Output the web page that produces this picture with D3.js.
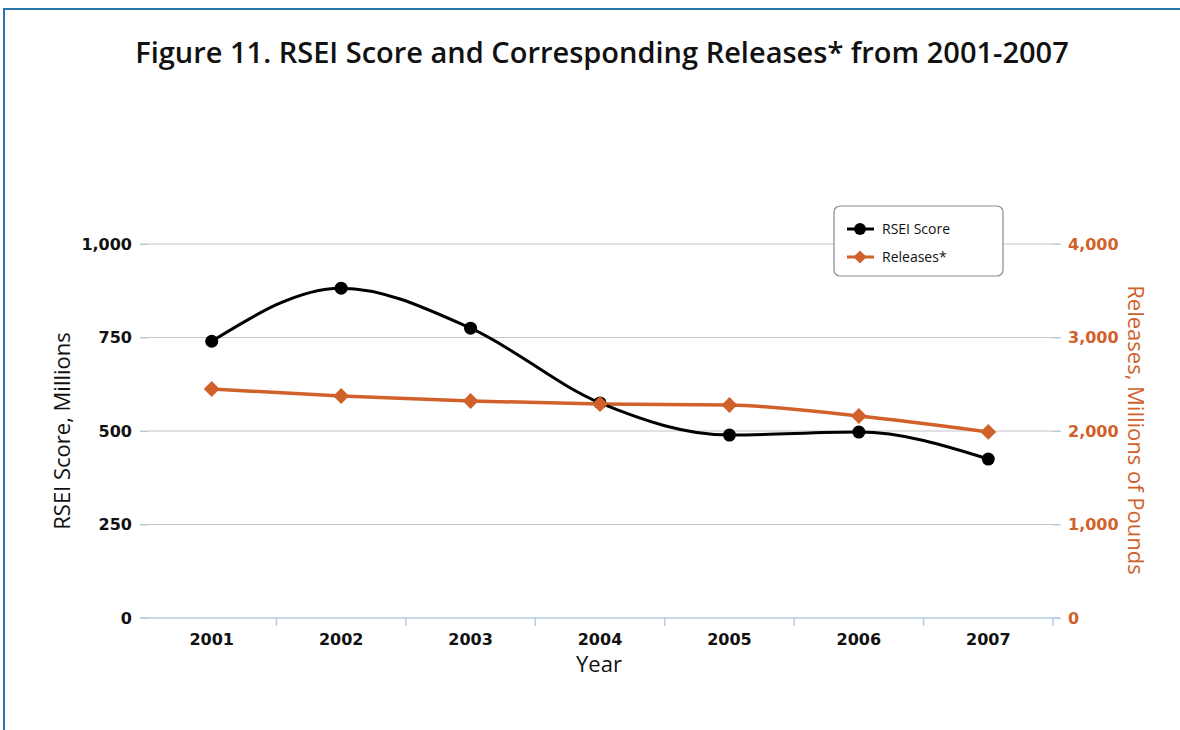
<!DOCTYPE html>
<html>
<head>
<meta charset="utf-8">
<script src="https://cdn.jsdelivr.net/npm/d3@7"></script>
<style>
  body { margin: 0; background: #fff; }
  svg { display: block; }
</style>
</head>
<body>
<div id="canvas"></div>
<script>
let years = ["2001", "2002", "2003", "2004", "2005", "2006", "2007"]
let rseiScore = [740, 882, 775, 575, 489, 497, 425]
let releases = [2449, 2374, 2321, 2289, 2278, 2160, 1990]
let leftTicks = [0, 250, 500, 750, 1000]
let rightTicks = [0, 1000, 2000, 3000, 4000]

let orange = "#d0612a"
let svg = {}

window.onload = function () { setup() }

function setup() {
  svg = d3.select("#canvas")
    .append("svg")
    .attr("width", 1180)
    .attr("height", 730)

  drawFrame()
  drawChart()
}

function drawFrame() {
  svg.append("path")
    .attr("d", "M4,730 L4,9 L1180,9")
    .attr("fill", "none")
    .attr("stroke", "#2a74a9")
    .attr("stroke-width", 2)

  svg.append("text")
    .attr("x", 602)
    .attr("y", 63)
    .attr("text-anchor", "middle")
    .attr("font-family", "'Open Sans', sans-serif")
    .attr("font-weight", 600)
    .attr("font-size", 29)
    .attr("fill", "#111")
    .text("Figure 11. RSEI Score and Corresponding Releases* from 2001-2007")
}

function drawChart() {
  let x = d3.scaleBand().domain(years).range([147, 1053])
  let yLeft = d3.scaleLinear().domain([0, 1000]).range([618, 244])
  let yRight = d3.scaleLinear().domain([0, 4000]).range([618, 244])

  // gridlines
  svg.append("g")
    .selectAll("line")
    .data(leftTicks.slice(1))
    .join("line")
    .attr("x1", 140)
    .attr("x2", 1060)
    .attr("y1", d => yLeft(d))
    .attr("y2", d => yLeft(d))
    .attr("stroke", "#c4c4c4")
    .attr("stroke-width", 1.2)

  // left axis
  let leftAxis = svg.append("g")
    .attr("transform", "translate(148,0)")
    .call(d3.axisLeft(yLeft).tickValues(leftTicks).tickSize(8).tickPadding(8).tickFormat(d3.format(",")))
  leftAxis.select(".domain").remove()
  leftAxis.selectAll(".tick line").attr("stroke", "#b3cbe2")
  leftAxis.selectAll("text")
    .attr("font-family", "'DejaVu Sans', sans-serif")
    .attr("font-weight", "bold")
    .attr("font-size", 16)
    .attr("fill", "#111")

  // right axis
  let rightAxis = svg.append("g")
    .attr("transform", "translate(1053,0)")
    .call(d3.axisRight(yRight).tickValues(rightTicks).tickSize(8).tickPadding(7).tickFormat(d3.format(",")))
  rightAxis.select(".domain").remove()
  rightAxis.selectAll(".tick line").attr("stroke", "#b3cbe2")
  rightAxis.selectAll("text")
    .attr("font-family", "'DejaVu Sans', sans-serif")
    .attr("font-weight", "bold")
    .attr("font-size", 16)
    .attr("fill", orange)

  // x axis
  let xAxis = svg.append("g")
    .attr("transform", "translate(0,618)")
    .call(d3.axisBottom(x).tickSize(0).tickPadding(16))
  xAxis.select(".domain").remove()
  xAxis.selectAll("text")
    .attr("font-family", "'DejaVu Sans', sans-serif")
    .attr("font-weight", "bold")
    .attr("font-size", 16)
    .attr("fill", "#111")

  svg.append("line")
    .attr("x1", 140).attr("x2", 1060)
    .attr("y1", 618).attr("y2", 618)
    .attr("stroke", "#b3cbe2")
    .attr("stroke-width", 1.5)

  svg.append("g")
    .selectAll("line")
    .data(years)
    .join("line")
    .attr("x1", d => x(d) + x.bandwidth())
    .attr("x2", d => x(d) + x.bandwidth())
    .attr("y1", 618)
    .attr("y2", 626)
    .attr("stroke", "#b3cbe2")
    .attr("stroke-width", 1.5)

  // axis titles
  svg.append("text")
    .attr("transform", "translate(70,431) rotate(-90)")
    .attr("text-anchor", "middle")
    .attr("font-family", "'Open Sans', sans-serif")
    .attr("font-size", 22)
    .attr("fill", "#111")
    .text("RSEI Score, Millions")

  svg.append("text")
    .attr("transform", "translate(1128,430) rotate(90)")
    .attr("text-anchor", "middle")
    .attr("font-family", "'Open Sans', sans-serif")
    .attr("font-size", 22)
    .attr("fill", orange)
    .text("Releases, Millions of Pounds")

  svg.append("text")
    .attr("x", 599)
    .attr("y", 672)
    .attr("text-anchor", "middle")
    .attr("font-family", "'Open Sans', sans-serif")
    .attr("font-size", 22)
    .attr("fill", "#111")
    .text("Year")

  let cx = d => x(d) + x.bandwidth() / 2

  // releases line
  let relLine = d3.line()
    .x((d, i) => cx(years[i]))
    .y(d => yRight(d))
    .curve(d3.curveMonotoneX)

  svg.append("path")
    .datum(releases)
    .attr("d", relLine)
    .attr("fill", "none")
    .attr("stroke", orange)
    .attr("stroke-width", 3.5)

  // rsei line
  let rseiLine = d3.line()
    .x((d, i) => cx(years[i]))
    .y(d => yLeft(d))
    .curve(d3.curveMonotoneX)

  svg.append("path")
    .datum(rseiScore)
    .attr("d", rseiLine)
    .attr("fill", "none")
    .attr("stroke", "#000")
    .attr("stroke-width", 3)

  svg.append("g")
    .selectAll("circle")
    .data(rseiScore)
    .join("circle")
    .attr("cx", (d, i) => cx(years[i]))
    .attr("cy", d => yLeft(d))
    .attr("r", 6.5)
    .attr("fill", "#000")

  svg.append("g")
    .selectAll("path")
    .data(releases)
    .join("path")
    .attr("d", d3.symbol(d3.symbolDiamond2, 160))
    .attr("transform", (d, i) => "translate(" + cx(years[i]) + "," + yRight(d) + ")")
    .attr("fill", orange)

  drawLegend()
}

function drawLegend() {
  let legend = svg.append("g").attr("transform", "translate(834,206)")

  legend.append("rect")
    .attr("width", 169)
    .attr("height", 70)
    .attr("rx", 6)
    .attr("fill", "#fff")
    .attr("stroke", "#8a8a8a")
    .attr("stroke-width", 1.2)

  let items = [
    { label: "RSEI Score", color: "#000", marker: "circle" },
    { label: "Releases*", color: orange, marker: "diamond" }
  ]

  let rows = legend.selectAll("g.item")
    .data(items)
    .join("g")
    .attr("class", "item")
    .attr("transform", (d, i) => "translate(0," + (23 + i * 28) + ")")

  rows.append("line")
    .attr("x1", 13).attr("x2", 40)
    .attr("y1", 0).attr("y2", 0)
    .attr("stroke", d => d.color)
    .attr("stroke-width", 3)

  rows.append("path")
    .attr("d", d => d.marker === "circle" ? d3.symbol(d3.symbolCircle, 110)() : d3.symbol(d3.symbolDiamond2, 110)())
    .attr("transform", "translate(26,0)")
    .attr("fill", d => d.color)

  rows.append("text")
    .attr("x", 48)
    .attr("y", 5)
    .attr("font-family", "'Open Sans', sans-serif")
    .attr("font-size", 14)
    .attr("fill", "#111")
    .text(d => d.label)
}
</script>
</body>
</html>
